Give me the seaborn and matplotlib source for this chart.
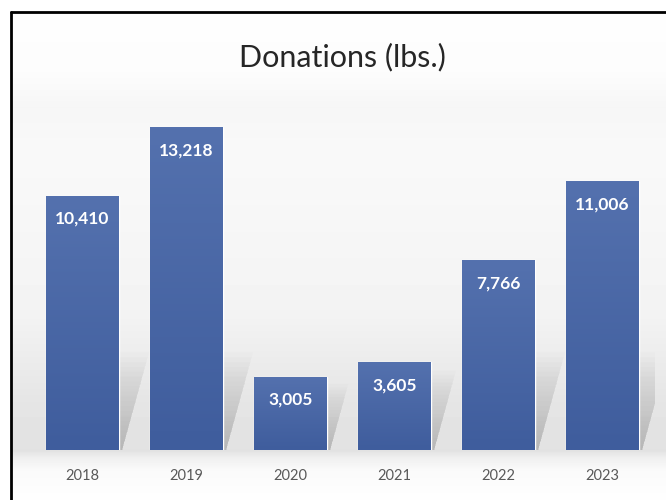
import numpy as np
import pandas as pd
import matplotlib
matplotlib.use("Agg")
import matplotlib.pyplot as plt
from matplotlib.lines import Line2D
from matplotlib.patches import Polygon
from matplotlib.colors import LinearSegmentedColormap
import seaborn as sns

# data
years = ["2018", "2019", "2020", "2021", "2022", "2023"]
donations = [10410, 13218, 3005, 3605, 7766, 11006]
labels = ["10,410", "13,218", "3,005", "3,605", "7,766", "11,006"]

df = pd.DataFrame({"Year": years, "Donations": donations})

sns.set_theme(style="white")
plt.rcParams["font.family"] = ["Lato", "DejaVu Sans"]

fig = plt.figure(figsize=(6.66, 5), dpi=100)
fig.patch.set_facecolor("white")

# background gradient (slide-like)
bg = fig.add_axes([11 / 666, 0, 655 / 666, 488 / 500], zorder=0)
ys = np.array([0, 60, 95, 140, 300, 390, 438, 446, 458, 488])
cs = np.array([254, 252, 246, 249, 243, 229, 226, 240, 250, 254])
col = np.interp(np.arange(488), ys, cs) / 255.0
grad = np.repeat(col[:, None], 2, axis=1)
bg.imshow(grad, cmap="gray", vmin=0, vmax=1, aspect="auto",
          extent=[0, 1, 0, 1], origin="upper")
bg.set_axis_off()

ax = fig.add_axes([30.5 / 666, 50 / 500, 624 / 666, 366.6 / 500], zorder=1)
ax.patch.set_alpha(0)
sns.barplot(data=df, x="Year", y="Donations", color="#4A67A7",
            width=0.70, saturation=1, ax=ax)
bars = list(ax.patches)

# soft skewed shadows behind the bars
n_layers = 20
for p in bars:
    x0, w, h = p.get_x(), p.get_width(), p.get_height()
    top = min(h * 0.9, 4000)
    for k in range(1, n_layers + 1):
        hh = top * k / n_layers
        dx = 0.26 * hh / 4000
        shadow = Polygon([(x0 + 0.1, 0), (x0 + w + 0.03, 0),
                          (x0 + w + 0.03 + dx, hh), (x0 + 0.1 + dx, hh)],
                         closed=True, facecolor="#5a5a5a", edgecolor="none",
                         alpha=0.016, zorder=1)
        ax.add_patch(shadow)

# vertical gradient inside bars
bar_grad = np.linspace(0, 1, 100)[:, None]
bar_cmap = LinearSegmentedColormap.from_list("bar", ["#5471AE", "#3F5D9D"])
for p in bars:
    p.set_zorder(2)
    x0, w, h = p.get_x(), p.get_width(), p.get_height()
    im = ax.imshow(bar_grad, cmap=bar_cmap, aspect="auto",
                   extent=[x0, x0 + w, 0, h], origin="upper", zorder=2)
    im.set_clip_path(p)
ax.set_xlim(-0.5, 5.5)
ax.set_ylim(0, 15000)
ax.set_aspect("auto")

for i, (v, lab) in enumerate(zip(donations, labels)):
    ax.text(i, v - 950, lab, ha="center", va="center", color="white",
            fontsize=12.5, fontweight="bold", zorder=3)

for s in ax.spines.values():
    s.set_visible(False)
ax.set_yticks([])
ax.set_xlabel("")
ax.set_ylabel("")
ax.tick_params(axis="x", length=0, pad=14, labelsize=10.5, labelcolor="#595959")

fig.text(342 / 666, 1 - 57 / 500, "Donations (lbs.)", ha="center", va="center",
         fontsize=22, color="#262626")

# frame lines (top and left edge of the slide)
fig.add_artist(Line2D([11 / 666, 1], [1 - 12 / 500, 1 - 12 / 500],
                      color="black", lw=2, transform=fig.transFigure))
fig.add_artist(Line2D([11 / 666, 11 / 666], [0, 1 - 12 / 500],
                      color="black", lw=2, transform=fig.transFigure))

fig.savefig("out.png", dpi=100)
